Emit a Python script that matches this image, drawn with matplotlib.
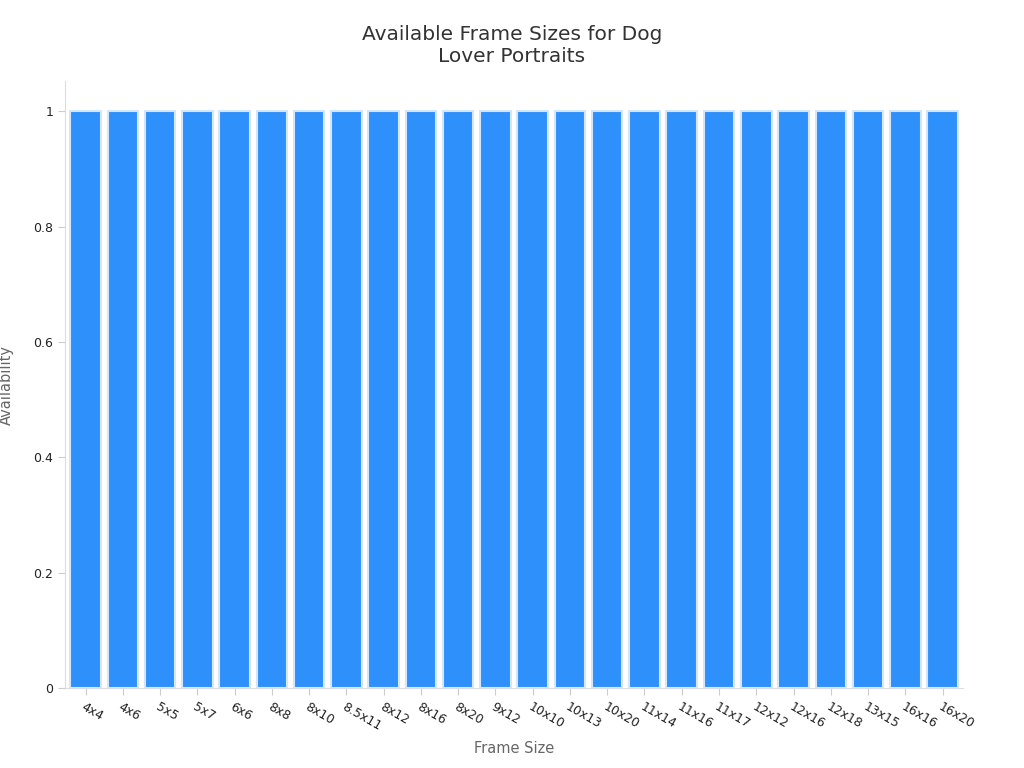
import matplotlib.pyplot as plt

sizes = ["4x4", "4x6", "5x5", "5x7", "6x6", "8x8", "8x10", "8.5x11", "8x12", "8x16",
         "8x20", "9x12", "10x10", "10x13", "10x20", "11x14", "11x16", "11x17", "12x12",
         "12x16", "12x18", "13x15", "16x16", "16x20"]
availability = [1] * len(sizes)

fig = plt.figure(figsize=(10.24, 7.68), dpi=100)
ax = fig.add_axes([0.0635, 0.104, 0.877, 0.79])

x = range(len(sizes))
ax.bar(x, availability, width=0.82, color="#2E90FA", edgecolor="#D6E6FA", linewidth=1.5)
ax.set_xlim(-0.55, len(sizes) - 0.45)
ax.set_ylim(0, 1.052)
ax.set_xticks(list(x))
ax.set_xticklabels(sizes, rotation=-30, ha="left", rotation_mode="anchor", fontsize=9, color="#222222")
ax.set_yticks([0, 0.2, 0.4, 0.6, 0.8, 1])
ax.set_yticklabels(["0", "0.2", "0.4", "0.6", "0.8", "1"], fontsize=9, color="#222222")
ax.tick_params(length=5, color="#cccccc")

for s in ["top", "right"]:
    ax.spines[s].set_visible(False)
for s in ["left", "bottom"]:
    ax.spines[s].set_color("#dddddd")

ax.set_xlabel("Frame Size", fontsize=10.5, color="#666666", labelpad=6)
ax.set_ylabel("Availability", fontsize=10.5, color="#666666", labelpad=14)
fig.suptitle("Available Frame Sizes for Dog\nLover Portraits", fontsize=14.5, color="#333333", y=0.968)

fig.savefig("out.png", dpi=100)
